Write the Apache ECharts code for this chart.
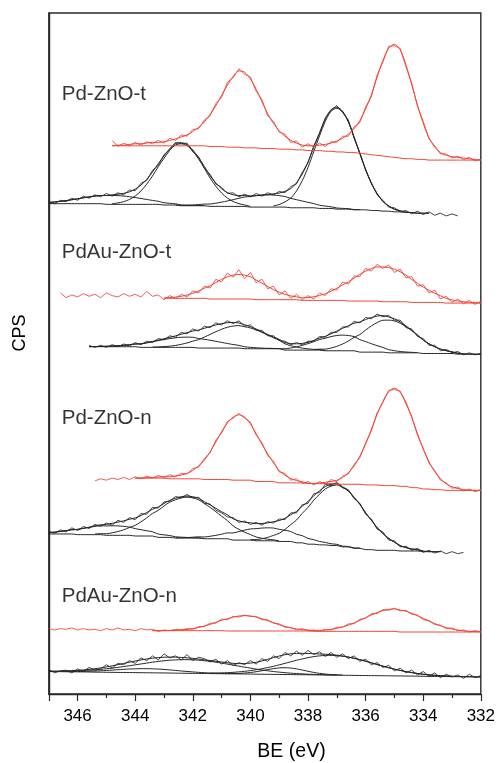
<!DOCTYPE html>
<html>
<head>
<meta charset="utf-8">
<script src="https://cdn.jsdelivr.net/npm/echarts@6/dist/echarts.min.js"></script>
<style>
  html, body { margin: 0; padding: 0; background: #fff; }
  #chart { width: 498px; height: 763px; }
</style>
</head>
<body>
<div id="chart"></div>
<script>
// Binding-energy grid (eV), 0.2 eV steps, high to low
const BE = [347, 346.8, 346.6, 346.4, 346.2, 346, 345.8, 345.6, 345.4, 345.2,
  345, 344.8, 344.6, 344.4, 344.2, 344, 343.8, 343.6, 343.4, 343.2,
  343, 342.8, 342.6, 342.4, 342.2, 342, 341.8, 341.6, 341.4, 341.2,
  341, 340.8, 340.6, 340.4, 340.2, 340, 339.8, 339.6, 339.4, 339.2,
  339, 338.8, 338.6, 338.4, 338.2, 338, 337.8, 337.6, 337.4, 337.2,
  337, 336.8, 336.6, 336.4, 336.2, 336, 335.8, 335.6, 335.4, 335.2,
  335, 334.8, 334.6, 334.4, 334.2, 334, 333.8, 333.6, 333.4, 333.2,
  333, 332.8, 332.6, 332.4, 332.2, 332];

const xTicks = [346, 344, 342, 340, 338, 336, 334, 332];
const sampleNames = ['Pd-ZnO-t', 'PdAu-ZnO-t', 'Pd-ZnO-n', 'PdAu-ZnO-n'];

// Each curve: [first BE value, intensities (offset CPS, a.u.)]
// ---- Pd-ZnO-t ----
const ptRedRaw = [344.8, [81.3,80.4,80.9,80.5,81.0,80.6,81.1,80.8,81.3,80.9,
  81.6,81.3,82.1,81.9,82.9,83.0,84.3,84.9,86.7,87.6,
  89.8,90.5,91.8,91.0,90.6,88.5,87.3,84.9,84.1,82.5,
  82.2,81.0,81.2,80.3,80.8,80.3,80.9,80.4,81.1,81.0,
  81.9,81.9,83.3,83.9,86.2,87.7,90.9,92.8,95.1,95.2,
  94.8,92.1,89.7,86.3,84.1,81.5,80.5,79.3,79.3,78.7,79.0,78.5,78.8,78.3,78.5]];
const ptRedFit = [344.8, [80.5,80.6,80.6,80.7,80.8,80.8,80.9,81.0,81.0,81.1,
  81.3,81.5,81.8,82.1,82.6,83.2,84.0,85.1,86.4,87.9,
  89.4,90.7,91.5,91.3,90.3,88.8,87.0,85.2,83.8,82.7,
  81.9,81.3,80.9,80.6,80.5,80.5,80.6,80.7,80.9,81.2,
  81.6,82.2,83.0,84.2,85.9,88.0,90.6,93.0,94.8,95.4,
  94.6,92.4,89.5,86.5,83.8,81.7,80.3,79.5,79.1,78.9,78.8,78.7,78.6,78.5,78.4]];
const ptRedBase = [344.8, [80.5,80.5,80.5,80.5,80.5,80.5,80.5,80.5,80.5,80.5,
  80.5,80.5,80.5,80.5,80.5,80.5,80.5,80.4,80.4,80.4,
  80.3,80.3,80.3,80.2,80.2,80.2,80.1,80.1,80.1,80.0,
  80.0,80.0,79.9,79.9,79.8,79.8,79.8,79.7,79.7,79.6,
  79.6,79.5,79.5,79.4,79.3,79.2,79.1,79.0,78.9,78.8,
  78.7,78.6,78.6,78.5,78.5,78.4,78.4,78.4,78.4,78.4,78.4,78.4,78.4,78.4,78.4]];
const ptBlkRaw = [347, [72.3,72.0,72.5,72.3,72.8,72.5,73.1,72.8,73.3,73.0,
  73.5,73.1,73.6,73.3,74.0,73.9,75.0,75.4,76.9,77.6,
  79.2,79.9,81.0,80.8,80.9,79.6,78.9,77.2,76.3,74.9,
  74.4,73.5,73.6,73.0,73.4,73.0,73.5,73.1,73.6,73.3,
  73.8,73.6,74.5,74.9,76.6,78.0,80.5,82.3,84.6,85.7,
  86.4,85.4,84.3,81.6,79.5,76.9,75.1,73.3,72.5,71.5,
  71.4,70.8,71.0,70.5,70.9,70.4,70.8,70.3,70.6,70.2,70.5,70.2]];
const ptBlkFit = [347, [72.18,72.25,72.34,72.45,72.58,72.72,72.86,73.0,73.12,73.2,
  73.2,73.3,73.39,73.52,73.74,74.13,74.73,75.58,76.65,77.87,
  79.01,80.08,80.83,80.96,80.67,79.89,78.77,77.48,76.12,75.03,
  74.19,73.63,73.31,73.19,73.19,73.15,73.18,73.27,73.3,73.45,
  73.56,73.82,74.21,75.06,76.36,78.13,80.26,82.43,84.44,85.81,
  86.17,85.58,84.06,81.8,79.37,77.03,74.97,73.47,72.33,71.67,
  71.18,70.98,70.78,70.7,70.6,70.6,70.6]];
const ptBlkBase = [347, [72.0,72.0,72.0,72.0,72.0,72.0,72.0,72.0,72.0,72.0,
  71.9,71.9,71.9,71.9,71.9,71.9,71.9,71.9,71.9,71.9,
  71.8,71.8,71.8,71.7,71.7,71.7,71.7,71.7,71.6,71.6,
  71.6,71.6,71.6,71.6,71.6,71.5,71.5,71.5,71.5,71.5,
  71.5,71.5,71.4,71.4,71.4,71.4,71.4,71.3,71.3,71.3,
  71.2,71.2,71.2,71.1,71.1,71.1,71.0,71.0,70.9,70.9,
  70.8,70.8,70.7,70.7,70.6,70.6,70.6]];
const ptPeak1 = [347, [72.18,72.25,72.34,72.45,72.58,72.72,72.86,73.0,73.12,73.2,
  73.2,73.2,73.18,73.12,73.02,72.9,72.76,72.62,72.48,72.35,
  72.14,72.05,71.98,71.82,71.78,71.75,71.73,71.72]];
const ptPeak2 = [344.8, [72.0,72.11,72.3,72.62,73.13,73.87,74.86,76.07,77.42,78.67,
  79.83,80.62,80.8,80.52,79.73,78.57,77.22,75.77,74.56,73.57,
  72.83,72.32,72.0,71.81,71.6]];
const ptPeak3 = [342.6, [71.83,71.74,71.77,71.81,71.87,71.94,71.95,72.07,72.22,72.4,
  72.59,72.79,72.98,73.05,73.18,73.27,73.3,73.27,73.18,73.05,
  72.78,72.59,72.39,72.2,72.02,71.77,71.65,71.54,71.37,71.31,
  71.27,71.14,71.13]];
const ptPeak4 = [339.2, [71.68,71.88,72.27,72.83,73.87,75.37,77.33,79.64,81.96,84.09,
  85.57,86.0,85.47,83.99,81.76,79.34,77.03,74.97,73.47,72.33,
  71.67,71.18,70.98]];

// ---- PdAu-ZnO-t ----
const patRedRaw = [346.6, [58.9,58.2,58.6,58.3,58.8,58.4,58.7,58.2,58.9,58.5,
  58.3,58.8,58.4,58.7,58.3,59.1,58.4,58.6,57.9,58.5,
  58.1,58.7,58.3,59.2,58.9,59.9,59.6,60.9,60.5,61.8,
  61.2,62.3,61.0,61.9,60.4,60.9,59.5,59.9,58.6,59.2,
  58.1,58.7,57.9,58.5,58.0,58.9,58.5,59.5,59.3,60.5,
  60.2,61.4,61.3,62.5,62.1,63.1,62.5,63.0,61.9,62.4,
  61.1,61.3,59.9,60.1,58.9,59.3,58.0,58.4,57.5,58.0,57.3,57.8,57.2,57.7]];
const patRedFit = [343, [58.16,58.2,58.28,58.4,58.59,58.84,59.17,59.58,59.94,60.43,
  60.88,61.26,61.51,61.6,61.51,61.26,60.78,60.33,59.84,59.38,
  58.99,58.68,58.46,58.32,58.18,58.21,58.33,58.52,58.78,59.14,
  59.57,60.07,60.51,61.07,61.62,62.1,62.47,62.72,62.7,62.62,
  62.37,62.0,61.52,60.87,60.31,59.77,59.27,58.84,58.48,58.09,
  57.87,57.71,57.6,57.52,57.47,57.44]];
const patRedBase = [343, [58.1,58.1,58.1,58.1,58.1,58.1,58.1,58.1,58.0,58.0,
  58.0,58.0,58.0,58.0,58.0,58.0,57.9,57.9,57.9,57.9,
  57.9,57.9,57.9,57.9,57.8,57.8,57.8,57.8,57.8,57.8,
  57.8,57.8,57.7,57.7,57.7,57.7,57.7,57.7,57.6,57.6,
  57.6,57.6,57.6,57.5,57.5,57.5,57.5,57.5,57.5,57.4,
  57.4,57.4,57.4,57.4,57.4,57.4]];
const patBlkRaw = [345.6, [51.2,50.9,51.2,50.9,51.3,51.0,51.4,51.1,51.6,51.3,
  51.8,51.6,52.2,52.0,52.6,52.4,53.1,52.9,53.6,53.3,
  54.0,53.8,54.5,54.2,54.8,54.4,54.8,54.0,54.2,53.4,
  53.4,52.6,52.6,51.9,51.8,51.3,51.6,51.3,51.8,51.8,
  52.5,52.4,53.1,53.1,53.9,53.9,54.7,54.5,55.3,55.1,
  55.8,55.4,55.6,54.9,54.9,53.8,53.6,52.5,52.2,51.2,
  51.2,50.4,50.6,50.1,50.3,49.8,50.1,49.8,50.0]];
const patBlkFit = [345.6, [51.0,51.02,51.04,51.06,51.09,51.14,51.2,51.29,51.39,51.42,
  51.57,51.77,51.96,52.16,52.37,52.59,52.83,53.05,53.3,53.44,
  53.7,53.95,54.19,54.39,54.52,54.55,54.49,54.22,53.95,53.6,
  53.19,52.8,52.42,52.08,51.61,51.46,51.42,51.48,51.63,51.92,
  52.26,52.52,52.89,53.29,53.69,54.07,54.45,54.63,54.99,55.28,
  55.5,55.57,55.37,55.09,54.64,54.06,53.41,52.73,51.97,51.43,
  50.99,50.65,50.41,50.24,50.04,49.97,49.9,49.9,49.9]];
const patBlkBase = [345.6, [51.0,51.0,51.0,51.0,51.0,51.0,51.0,51.0,51.0,50.9,
  50.9,50.9,50.9,50.9,50.9,50.9,50.9,50.9,50.9,50.8,
  50.8,50.8,50.8,50.8,50.8,50.8,50.8,50.7,50.7,50.7,
  50.7,50.7,50.7,50.7,50.5,50.5,50.5,50.5,50.5,50.5,
  50.5,50.4,50.4,50.4,50.4,50.4,50.4,50.2,50.2,50.2,
  50.2,50.2,50.1,50.1,50.1,50.1,50.1,50.1,50.0,50.0,
  50.0,50.0,50.0,50.0,49.9,49.9,49.9,49.9,49.9]];
const patPeak1 = [345.4, [51.02,51.04,51.06,51.09,51.14,51.2,51.29,51.39,51.42,51.57,
  51.73,51.89,52.05,52.19,52.3,52.38,52.4,52.38,52.2,52.09,
  51.95,51.79,51.63,51.47,51.32,51.19,50.99,50.9,50.84,50.79,
  50.76,50.74,50.72]];
const patPeak2 = [343.4, [50.94,50.97,51.01,51.08,51.19,51.35,51.55,51.82,52.04,52.41,
  52.8,53.2,53.56,53.85,54.03,54.1,53.93,53.75,53.46,53.1,
  52.7,52.31,51.94,51.42,51.15,50.95,50.79,50.68,50.61,50.57,50.44]];
const patPeak3 = [339.4, [50.74,50.74,50.72,50.69,50.81,50.97,51.19,51.45,51.74,52.05,
  52.24,52.48,52.64,52.7,52.64,52.48,52.04,51.75,51.44,51.15,
  50.89,50.57,50.41,50.29,50.22,50.17,50.14]];
const patPeak4 = [337.8, [50.57,50.64,50.64,50.81,51.05,51.39,51.83,52.37,52.79,53.44,
  54.04,54.55,54.88,54.9,54.78,54.45,53.94,53.34,52.69,51.97,
  51.43,50.99,50.65,50.41,50.24,50.04,49.97]];

// ---- Pd-ZnO-n ----
const pnRedRaw = [345.4, [31.3,31.6,31.4,31.7,31.5,31.8,31.5,31.9,31.6,32.0,
  31.7,32.1,31.8,32.2,31.9,32.4,32.3,33.1,33.3,34.6,
  35.4,37.3,38.3,40.0,40.5,41.2,40.5,39.9,38.0,36.9,
  35.0,34.2,32.6,32.4,31.4,31.6,30.9,31.2,30.7,31.2,
  30.8,31.5,31.2,32.0,32.3,33.7,34.7,36.9,38.6,41.3,
  42.8,44.6,44.7,44.5,42.6,40.8,38.0,36.1,33.9,32.8,
  31.4,31.0,30.2,30.4,29.8,30.1,29.7,30.0]];
const pnRedFit = [344, [31.7,31.7,31.75,31.8,31.85,31.9,31.9,32.02,32.15,32.4,
  32.83,33.5,34.32,35.55,37.0,38.51,39.79,40.65,41.0,40.65,
  39.69,38.21,36.7,35.25,33.97,32.8,32.13,31.65,31.35,31.17,
  30.95,30.9,30.98,31.07,31.22,31.37,31.79,32.48,33.49,34.93,
  36.68,38.87,41.1,42.96,44.39,44.9,44.29,42.86,40.6,38.27,
  35.93,34.13,32.64,31.63,30.84,30.42,30.17,30.02,29.93,29.9,29.9]];
const pnRedBase = [344, [31.7,31.7,31.7,31.7,31.7,31.7,31.6,31.6,31.6,31.6,
  31.6,31.6,31.5,31.5,31.5,31.5,31.5,31.4,31.4,31.4,
  31.4,31.2,31.2,31.2,31.2,31.0,31.0,31.0,31.0,31.0,
  30.9,30.9,30.9,30.9,30.9,30.8,30.8,30.8,30.8,30.8,
  30.7,30.7,30.7,30.6,30.6,30.6,30.5,30.5,30.3,30.3,
  30.1,30.1,30.0,30.0,29.9,29.9,29.9,29.9,29.9,29.9,29.9]];
const pnBlkRaw = [347, [23.9,23.6,24.1,23.8,24.4,24.0,24.6,24.3,24.9,24.6,
  25.1,24.8,25.5,25.2,25.9,25.6,26.5,26.4,27.4,27.3,
  28.2,28.3,29.0,28.8,29.3,28.8,28.9,28.0,27.9,27.0,
  26.6,26.0,25.9,25.2,25.4,24.9,25.2,24.8,25.3,25.1,
  25.7,25.6,26.6,26.6,27.8,28.0,29.4,29.6,30.8,30.6,
  31.1,30.3,30.0,28.7,28.0,26.4,25.7,24.2,23.8,22.6,
  22.5,21.6,21.7,21.1,21.4,20.8,21.1,20.7,21.0,20.6,20.9,20.6,20.8]];
const pnBlkFit = [347, [23.69,23.77,23.87,23.99,24.12,24.17,24.33,24.48,24.7,24.85,
  24.91,25.07,25.24,25.42,25.66,25.85,26.21,26.64,27.13,27.46,
  27.98,28.44,28.74,28.98,29.06,28.97,28.73,28.25,27.77,27.27,
  26.77,26.32,25.73,25.43,25.21,25.15,25.02,25.04,25.13,25.3,
  25.47,25.8,26.33,26.8,27.58,28.25,29.12,29.83,30.47,30.78,
  30.88,30.44,29.88,28.88,27.89,26.6,25.53,24.44,23.57,22.86,
  22.3,21.79,21.5,21.3,21.18,21.0,20.9,20.9,20.9]];
const pnBlkBase = [347, [23.5,23.5,23.5,23.5,23.5,23.4,23.4,23.4,23.4,23.4,
  23.3,23.3,23.3,23.3,23.3,23.2,23.2,23.2,23.2,23.0,
  23.0,23.0,22.9,22.9,22.9,22.9,22.9,22.8,22.8,22.8,
  22.8,22.8,22.6,22.6,22.6,22.6,22.5,22.5,22.5,22.5,
  22.4,22.4,22.4,22.2,22.2,22.0,22.0,21.9,21.9,21.8,
  21.8,21.6,21.6,21.4,21.4,21.2,21.2,21.1,21.1,21.1,
  21.1,21.0,21.0,21.0,21.0,20.9,20.9,20.9,20.9]];
const pnPeak1 = [347, [23.69,23.77,23.87,23.99,24.12,24.17,24.33,24.48,24.61,24.71,
  24.68,24.7,24.68,24.61,24.51,24.28,24.13,23.97,23.82,23.49,
  23.37,23.27,23.09,23.03,22.99,22.95,22.93,22.82]];
const pnPeak2 = [345.4, [23.49,23.54,23.53,23.67,23.86,24.11,24.45,24.77,25.28,25.87,
  26.51,26.97,27.61,28.17,28.52,28.8,28.9,28.8,28.52,27.97,
  27.41,26.77,26.11,25.47,24.68,24.17,23.75,23.41,23.06,22.87,
  22.73,22.64,22.49]];
const pnPeak3 = [342.6, [22.93,22.95,22.97,23.02,23.08,23.06,23.16,23.3,23.46,23.65,
  23.65,23.86,24.06,24.24,24.28,24.37,24.4,24.37,24.18,24.04,
  23.86,23.46,23.25,22.85,22.66,22.4,22.26,22.06,21.98,21.72,
  21.67,21.45,21.43]];
const pnPeak4 = [340, [22.7,22.68,22.8,23.0,23.29,23.6,24.16,24.87,25.54,26.53,
  27.4,28.46,29.33,30.11,30.52,30.7,30.32,29.81,28.83,27.86,
  26.6,25.53,24.44,23.57,22.86,22.3,21.79,21.5,21.3,21.18,21.0]];

// ---- PdAu-ZnO-n ----
const panRedRaw = [347, [9.6,9.4,9.6,9.5,9.7,9.4,9.6,9.4,9.5,9.3,
  9.6,9.4,9.7,9.4,9.5,9.3,9.6,9.4,9.5,9.2,
  9.4,9.3,9.5,9.4,9.6,9.5,9.9,9.9,10.4,10.4,
  11.0,10.9,11.4,11.3,11.6,11.4,11.4,10.9,10.9,10.4,
  10.3,9.8,9.8,9.4,9.6,9.3,9.4,9.2,9.5,9.4,
  9.8,9.8,10.3,10.3,11.0,11.1,11.8,11.8,12.4,12.3,
  12.6,12.2,12.3,11.7,11.6,10.9,10.8,10.2,10.1,9.6,
  9.7,9.3,9.4,9.1,9.3,9.1]];
const panRedFit = [343.4, [9.3,9.3,9.3,9.33,9.36,9.41,9.49,9.6,9.76,9.97,
  10.22,10.52,10.82,11.05,11.29,11.45,11.5,11.45,11.29,11.05,
  10.77,10.47,10.17,9.92,9.71,9.55,9.44,9.4,9.33,9.34,
  9.38,9.49,9.65,9.85,10.12,10.44,10.81,11.2,11.6,11.96,
  12.25,12.43,12.5,12.33,12.15,11.86,11.5,11.1,10.71,10.34,
  10.02,9.75,9.55,9.39,9.28,9.21,9.17,9.14]];
const panRedBase = [343.4, [9.3,9.3,9.3,9.3,9.3,9.3,9.3,9.3,9.3,9.3,
  9.3,9.3,9.3,9.25,9.25,9.25,9.25,9.25,9.25,9.25,
  9.25,9.25,9.25,9.25,9.25,9.25,9.25,9.25,9.2,9.2,
  9.2,9.2,9.2,9.2,9.2,9.2,9.2,9.2,9.2,9.2,
  9.2,9.2,9.2,9.1,9.1,9.1,9.1,9.1,9.1,9.1,
  9.1,9.1,9.1,9.1,9.1,9.1,9.1,9.1]];
const panBlkRaw = [347, [3.6,3.1,3.4,3.5,3.1,3.7,3.3,3.9,3.5,3.7,
  4.3,3.8,4.5,4.3,4.9,4.5,5.3,4.9,5.6,5.0,
  5.9,5.3,5.6,5.0,5.8,4.9,5.4,5.2,4.7,5.1,
  4.4,4.9,4.2,4.6,4.3,4.9,4.4,5.2,4.8,5.6,
  5.2,6.1,5.6,6.3,5.7,6.4,5.8,6.2,5.5,6.1,
  5.4,5.9,5.2,5.6,4.8,5.1,4.3,4.6,3.9,4.2,
  3.4,3.8,3.1,3.5,2.8,3.3,2.6,3.1,2.4,2.9,
  2.5,2.8,2.3,2.9,2.4,2.7]];
const panBlkFit = [347, [3.34,3.34,3.35,3.38,3.43,3.47,3.53,3.62,3.71,3.83,
  3.98,4.13,4.31,4.49,4.67,4.84,5.0,5.14,5.26,5.34,
  5.4,5.42,5.41,5.37,5.31,5.23,5.13,5.01,4.93,4.81,
  4.70,4.59,4.50,4.46,4.47,4.54,4.66,4.85,5.09,5.34,
  5.58,5.77,5.90,5.96,5.97,5.95,5.92,5.88,5.84,5.78,
  5.70,5.57,5.42,5.25,5.04,4.82,4.58,4.33,4.09,3.86,
  3.65,3.46,3.29,3.14,3.01,2.90,2.81,2.74,2.69,2.64,
  2.61,2.58,2.56,2.54,2.52,2.51]];
const panBlkBase = [347, [3.30,3.29,3.28,3.27,3.26,3.25,3.24,3.23,3.21,3.20,
  3.19,3.18,3.17,3.16,3.15,3.14,3.13,3.12,3.11,3.10,
  3.09,3.08,3.06,3.05,3.04,3.03,3.02,3.01,3.00,2.99,
  2.98,2.97,2.96,2.95,2.94,2.93,2.91,2.90,2.89,2.88,
  2.87,2.86,2.85,2.84,2.83,2.82,2.81,2.80,2.79,2.78,
  2.77,2.75,2.74,2.73,2.72,2.71,2.70,2.69,2.68,2.67,
  2.66,2.65,2.64,2.63,2.62,2.60,2.59,2.58,2.57,2.56,
  2.55,2.54,2.53,2.52,2.51,2.50]];
const panPeak1 = [346.4, [3.29,3.30,3.31,3.32,3.35,3.37,3.41,3.46,3.51,3.57,
  3.62,3.67,3.70,3.72,3.72,3.70,3.66,3.61,3.54,3.46,
  3.38,3.31,3.24,3.18,3.13,3.08,3.05,3.02,2.99]];
const panPeak2 = [347, [3.34,3.34,3.35,3.36,3.39,3.41,3.45,3.50,3.55,3.62,
  3.71,3.80,3.91,4.03,4.15,4.28,4.41,4.54,4.67,4.78,
  4.88,4.96,5.01,5.04,5.04,5.02,4.97,4.89,4.79,4.67,
  4.54,4.39,4.24,4.09,3.94,3.80,3.65,3.52,3.41,3.30,
  3.21,3.13,3.06,3.00,2.96,2.91,2.88,2.85,2.83,2.81,2.79]];
const panPeak3 = [340.8, [2.99,3.00,3.02,3.08,3.16,3.27,3.42,3.58,3.73,3.83,
  3.86,3.81,3.69,3.52,3.34,3.17,3.03,2.93,2.85,2.81,2.77]];
const panPeak4 = [341.4, [3.06,3.07,3.10,3.13,3.18,3.25,3.33,3.44,3.56,3.71,
  3.88,4.07,4.28,4.50,4.73,4.95,5.15,5.34,5.49,5.60,
  5.66,5.68,5.64,5.55,5.42,5.25,5.04,4.82,4.58,4.33,
  4.09,3.86,3.65,3.46,3.29,3.14,3.01,2.90,2.81,2.74,
  2.69,2.64,2.61]];

// Label anchor: BE position and intensity level of each sample name
const labelBE = 346.55;
const labelLevel = [88.1, 64.9, 40.5, 14.4];

const RED = '#ef4437';
const INK = '#262626';
const FONT = '"Liberation Sans", Arial, sans-serif';

const samples = [
  { red: [ptRedRaw, ptRedFit, ptRedBase], black: [ptBlkRaw, ptBlkFit, ptBlkBase, ptPeak1, ptPeak2, ptPeak3, ptPeak4] },
  { red: [patRedRaw, patRedFit, patRedBase], black: [patBlkRaw, patBlkFit, patBlkBase, patPeak1, patPeak2, patPeak3, patPeak4] },
  { red: [pnRedRaw, pnRedFit, pnRedBase], black: [pnBlkRaw, pnBlkFit, pnBlkBase, pnPeak1, pnPeak2, pnPeak3, pnPeak4] },
  { red: [panRedRaw, panRedFit, panRedBase], black: [panBlkRaw, panBlkFit, panBlkBase, panPeak1, panPeak2, panPeak3, panPeak4] }
];

function toPoints(curve) {
  const i0 = BE.indexOf(curve[0]);
  return curve[1].map((v, j) => [BE[i0 + j], v]);
}

function lineSeries(curve, color, isRaw, z) {
  return {
    type: 'line',
    data: toPoints(curve),
    showSymbol: false,
    symbol: 'none',
    smooth: isRaw ? false : 0.3,
    silent: true,
    animation: false,
    z: z,
    lineStyle: { color: color, width: isRaw ? 0.9 : 1, opacity: isRaw ? 0.95 : 1 }
  };
}

const series = [];
samples.forEach((s) => {
  s.black.forEach((c, k) => series.push(lineSeries(c, INK, k === 0, 2)));
  s.red.forEach((c, k) => series.push(lineSeries(c, RED, k === 0, 3)));
});

// sample names placed through the axes
series.push({
  type: 'scatter',
  symbolSize: 0,
  silent: true,
  animation: false,
  data: sampleNames.map((n, i) => ({ value: [labelBE, labelLevel[i]], name: n })),
  label: {
    show: true,
    position: 'right',
    distance: 0,
    formatter: (p) => p.name,
    fontSize: 20.5,
    fontFamily: FONT,
    color: '#000'
  }
});

const chart = echarts.init(document.getElementById('chart'), null, { renderer: 'canvas' });
chart.setOption({
  backgroundColor: '#fff',
  animation: false,
  grid: { left: 48.8, right: 15, top: 13, bottom: 69, show: true, borderColor: '#2a2a2a', borderWidth: 1.4 },
  graphic: [
    {
      type: 'text', x: 20.5, y: 333, rotation: Math.PI / 2, silent: true,
      style: { text: 'CPS', font: '18px ' + FONT, fill: '#000', textAlign: 'center', textVerticalAlign: 'middle' }
    },
    {
      type: 'text', x: 291.5, y: 752, silent: true,
      style: { text: 'BE (eV)', font: '19.5px ' + FONT, fill: '#000', textAlign: 'center', textVerticalAlign: 'middle' }
    }
  ],
  xAxis: {
    type: 'value',
    min: 332,
    max: 347,
    interval: 2,
    inverse: true,
    axisLine: { show: true, lineStyle: { color: '#2a2a2a', width: 1.4 } },
    axisTick: { show: true, inside: false, length: 7, lineStyle: { color: '#2a2a2a', width: 1.2 } },
    minorTick: { show: true, splitNumber: 2, length: 4, lineStyle: { color: '#2a2a2a', width: 1.2 } },
    axisLabel: {
      fontSize: 17, color: '#000', fontFamily: FONT, margin: 14,
      formatter: (v) => (xTicks.indexOf(v) >= 0 ? String(v) : '')
    },
    splitLine: { show: false },
    minorSplitLine: { show: false }
  },
  yAxis: {
    type: 'value',
    min: 0,
    max: 100,
    axisLine: { show: true, lineStyle: { color: '#2a2a2a', width: 1.4 } },
    axisTick: { show: false },
    axisLabel: { show: false },
    splitLine: { show: false }
  },
  series: series
});
</script>
</body>
</html>
